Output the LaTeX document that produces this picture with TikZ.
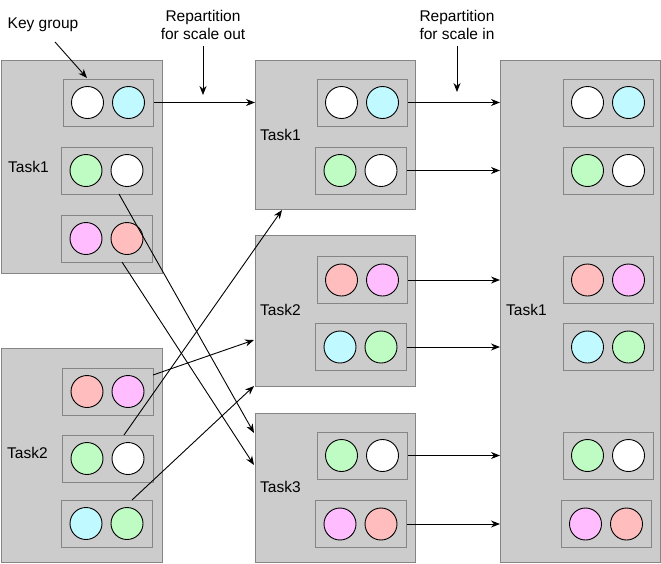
\documentclass[tikz,border=0pt]{standalone}
\usepackage{fontspec}
\setmainfont{Liberation Sans}
\usetikzlibrary{arrows.meta}
\definecolor{boxgray}{HTML}{CCCCCC}
\definecolor{bordergray}{HTML}{858585}
\definecolor{kwhite}{HTML}{FFFFFF}
\definecolor{kcyan}{HTML}{C0F9FF}
\definecolor{kgreen}{HTML}{BFFCC3}
\definecolor{kpink}{HTML}{FFBDFF}
\definecolor{kred}{HTML}{FFBDBD}
\tikzset{
  taskbox/.style={draw=bordergray, fill=boxgray, line width=1pt, rectangle, anchor=north west, inner sep=0pt},
  grpbox/.style={draw=bordergray, fill=boxgray, line width=1pt, rectangle, inner sep=0pt, minimum height=47pt},
  keyc/.style={draw=black, line width=0.9pt, circle, minimum size=32pt, inner sep=0pt},
  lbl/.style={font=\fontsize{15.5}{17.5}\selectfont, inner sep=0pt, align=center},
  arr/.style={draw=black, line width=0.9pt, -{Stealth[length=9pt,width=7pt]}},
}
% \kgroup{name}{x1}{y1}{x2}{y2}{colA}{colB}
\newcommand\kgroup[7]{%
  \node[grpbox, minimum width={#4-#2}] (#1) at ({(#2+#4)/2},{(#3+#5)/2}) {};
  \node[keyc, fill=#6] (#1a) at ({(#2+#4)/2-20.5},{(#3+#5)/2}) {};
  \node[keyc, fill=#7] (#1b) at ({(#2+#4)/2+20.5},{(#3+#5)/2}) {};
}
\begin{document}
\begin{tikzpicture}[x=1pt,y=-1pt]
\useasboundingbox (0,0) rectangle (661,563);
% task boxes
\node[taskbox, minimum width=161pt, minimum height=213pt] (LT1) at (1,60) {};
\node[taskbox, minimum width=161pt, minimum height=214pt] (LT2) at (1,348) {};
\node[taskbox, minimum width=160pt, minimum height=149pt] (MT1) at (255,60) {};
\node[taskbox, minimum width=160pt, minimum height=151pt] (MT2) at (255,235) {};
\node[taskbox, minimum width=160pt, minimum height=149pt] (MT3) at (255,413) {};
\node[taskbox, minimum width=160pt, minimum height=502pt] (RT1) at (500,60) {};
% task labels
\node[lbl, anchor=west] (LT1l) at (8,167) {Task1};
\node[lbl, anchor=west] (LT2l) at (7,453) {Task2};
\node[lbl, anchor=west] (MT1l) at (260,135) {Task1};
\node[lbl, anchor=west] (MT2l) at (260,310) {Task2};
\node[lbl, anchor=west] (MT3l) at (260,487) {Task3};
\node[lbl, anchor=west] (RT1l) at (506,310) {Task1};
% groups
\kgroup{LAa}{63}{79}{153}{126}{kwhite}{kcyan}
\kgroup{LAb}{61}{147}{152}{194}{kgreen}{kwhite}
\kgroup{LAc}{61}{215}{152}{262}{kpink}{kred}
\kgroup{LBa}{62}{368}{153}{415}{kred}{kpink}
\kgroup{LBb}{62}{435}{153}{482}{kgreen}{kwhite}
\kgroup{LBc}{61}{500}{152}{547}{kcyan}{kgreen}
\kgroup{MAa}{317}{79}{407}{126}{kwhite}{kcyan}
\kgroup{MAb}{315}{147}{406}{194}{kgreen}{kwhite}
\kgroup{MBa}{317}{257}{407}{303}{kred}{kpink}
\kgroup{MBb}{315}{324}{406}{370}{kcyan}{kgreen}
\kgroup{MCa}{317}{432}{407}{479}{kgreen}{kwhite}
\kgroup{MCb}{315}{501}{406}{547}{kpink}{kred}
\kgroup{RAa}{563}{79}{653}{126}{kwhite}{kcyan}
\kgroup{RAb}{563}{147}{653}{194}{kgreen}{kwhite}
\kgroup{RAc}{563}{257}{653}{303}{kred}{kpink}
\kgroup{RAd}{563}{324}{653}{370}{kcyan}{kgreen}
\kgroup{RAe}{563}{432}{653}{479}{kgreen}{kwhite}
\kgroup{RAf}{561}{501}{651}{547}{kpink}{kred}
% top labels
\node[lbl] (keyg) at (43,25) {Key group};
\node[lbl] (rout) at (203,25) {Repartition\\for scale out};
\node[lbl] (rin) at (457,25) {Repartition\\for scale in};
% arrow end coordinates
\coordinate (keyS) at (55,42);
\coordinate (keyE) at (87,78);
\coordinate (routE) at (203,95);
\coordinate (rinE) at (457,92);
\coordinate (a11s) at (119,194);
\coordinate (a11e) at (254,433);
\coordinate (a12s) at (122,262);
\coordinate (a12e) at (254,465);
\coordinate (a13s) at (124,435);
\coordinate (a13e) at (282,210);
\coordinate (a14s) at (153,375);
\coordinate (a14e) at (254,340);
\coordinate (a15s) at (132,500);
\coordinate (a15e) at (254,386);
% arrows
\draw[arr] (keyS) -- (keyE);
\draw[arr] (rout.south) ++(0,6) -- (routE);
\draw[arr] (rin.south) ++(0,6) -- (rinE);
\draw[arr] (LAa.east) -- (LAa.east -| MT1.west);
\draw[arr] (MAa.east) -- (MAa.east -| RT1.west);
\draw[arr] (MAb.east) -- (MAb.east -| RT1.west);
\draw[arr] (MBa.east) -- (MBa.east -| RT1.west);
\draw[arr] (MBb.east) -- (MBb.east -| RT1.west);
\draw[arr] (MCa.east) -- (MCa.east -| RT1.west);
\draw[arr] (MCb.east) -- (MCb.east -| RT1.west);
\draw[arr] (a11s) -- (a11e);
\draw[arr] (a12s) -- (a12e);
\draw[arr] (a13s) -- (a13e);
\draw[arr] (a14s) -- (a14e);
\draw[arr] (a15s) -- (a15e);
\end{tikzpicture}
\end{document}
